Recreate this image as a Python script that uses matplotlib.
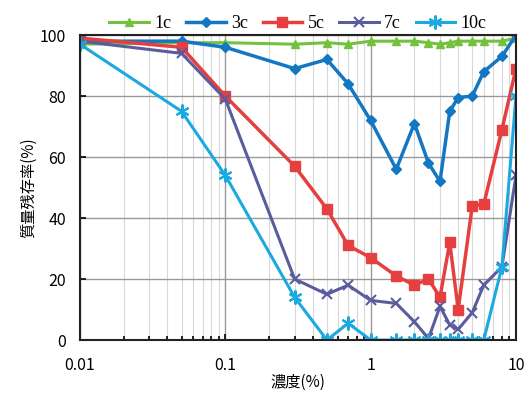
import numpy as np
import matplotlib.pyplot as plt
from matplotlib.ticker import LogLocator, NullFormatter

plt.rcParams['font.family'] = ['Noto Sans CJK JP', 'DejaVu Sans']

# concentration (%) and mass retention (%) for each series
conc = [0.01, 0.05, 0.1, 0.3, 0.5, 0.7, 1, 1.5, 2, 2.5, 3, 3.5, 4, 5, 6, 8, 10]
c1 = [97, 97.5, 97.5, 97, 97.5, 97, 98, 98, 98, 97.5, 97, 97.5, 98, 98, 98, 98, 99]
c3 = [98, 98, 96, 89, 92, 84, 72, 56, 71, 58, 52, 75, 79.5, 80, 88, 93, 100]
c5 = [99, 96, 80, 57, 43, 31, 27, 21, 18, 20, 14, 32, 10, 44, 44.5, 69, 89]
c7 = [98, 94, 79, 20, 15, 18, 13, 12, 6, 0.5, 11, 5, 3.5, 9, 18, 24, 54]
c10 = [97, 75, 54, 14, 0, 5.5, 0, 0, 0, 0, 0, 0, 0, 0, 0, 24, 80]

labels = ['1c', '3c', '5c', '7c', '10c']
colors = ['#72C23E', '#1377C4', '#E5403F', '#5A5C9E', '#1AAAE0']

fig = plt.figure(figsize=(5.26, 3.94), dpi=100)
ax = fig.add_axes([0.152, 0.137, 0.829, 0.774])

ax.plot(conc, c1, color=colors[0], lw=2.2, marker='^', ms=6, label=labels[0])
ax.plot(conc, c3, color=colors[1], lw=2.5, marker='D', ms=5, label=labels[1])
ax.plot(conc, c5, color=colors[2], lw=2.5, marker='s', ms=7, label=labels[2])
ax.plot(conc, c7, color=colors[3], lw=2.2, marker='x', ms=7, mew=1.5, label=labels[3])
ax.plot(conc, c10, color=colors[4], lw=2.2, marker=(6, 2, 0), ms=10, mew=1.5, label=labels[4])

ax.set_xscale('log')
ax.set_xlim(0.01, 10)
ax.set_ylim(0, 100)
ax.set_yticks([0, 20, 40, 60, 80, 100])
ax.set_xticks([0.01, 0.1, 1, 10])
ax.set_xticklabels(['0.01', '0.1', '1', '10'])
ax.xaxis.set_minor_locator(LogLocator(base=10, subs=np.arange(2, 10)))
ax.xaxis.set_minor_formatter(NullFormatter())

ax.grid(True, which='major', color='#999999', lw=1.0)
ax.grid(True, which='minor', axis='x', color='#d8d8d8', lw=0.8)
ax.set_axisbelow(True)
ax.tick_params(which='both', direction='in', labelsize=11.5, length=4, width=1.2)
ax.tick_params(which='minor', length=3)
ax.tick_params(axis='x', pad=12)
ax.tick_params(axis='y', pad=10)
for s in ax.spines.values():
    s.set_linewidth(1.5)
    s.set_color('#222222')

ax.set_xlabel('濃度(%)', fontsize=11, labelpad=0)
ax.set_ylabel('質量残存率(%)', fontsize=11, labelpad=2)

ax.legend(loc='lower center', bbox_to_anchor=(0.5, 0.985), ncol=5, frameon=False,
          prop={'family': 'Liberation Serif', 'size': 13}, handlelength=2.2,
          columnspacing=0.8, handletextpad=0.3, borderaxespad=0)

fig.savefig('out.png', dpi=100)
